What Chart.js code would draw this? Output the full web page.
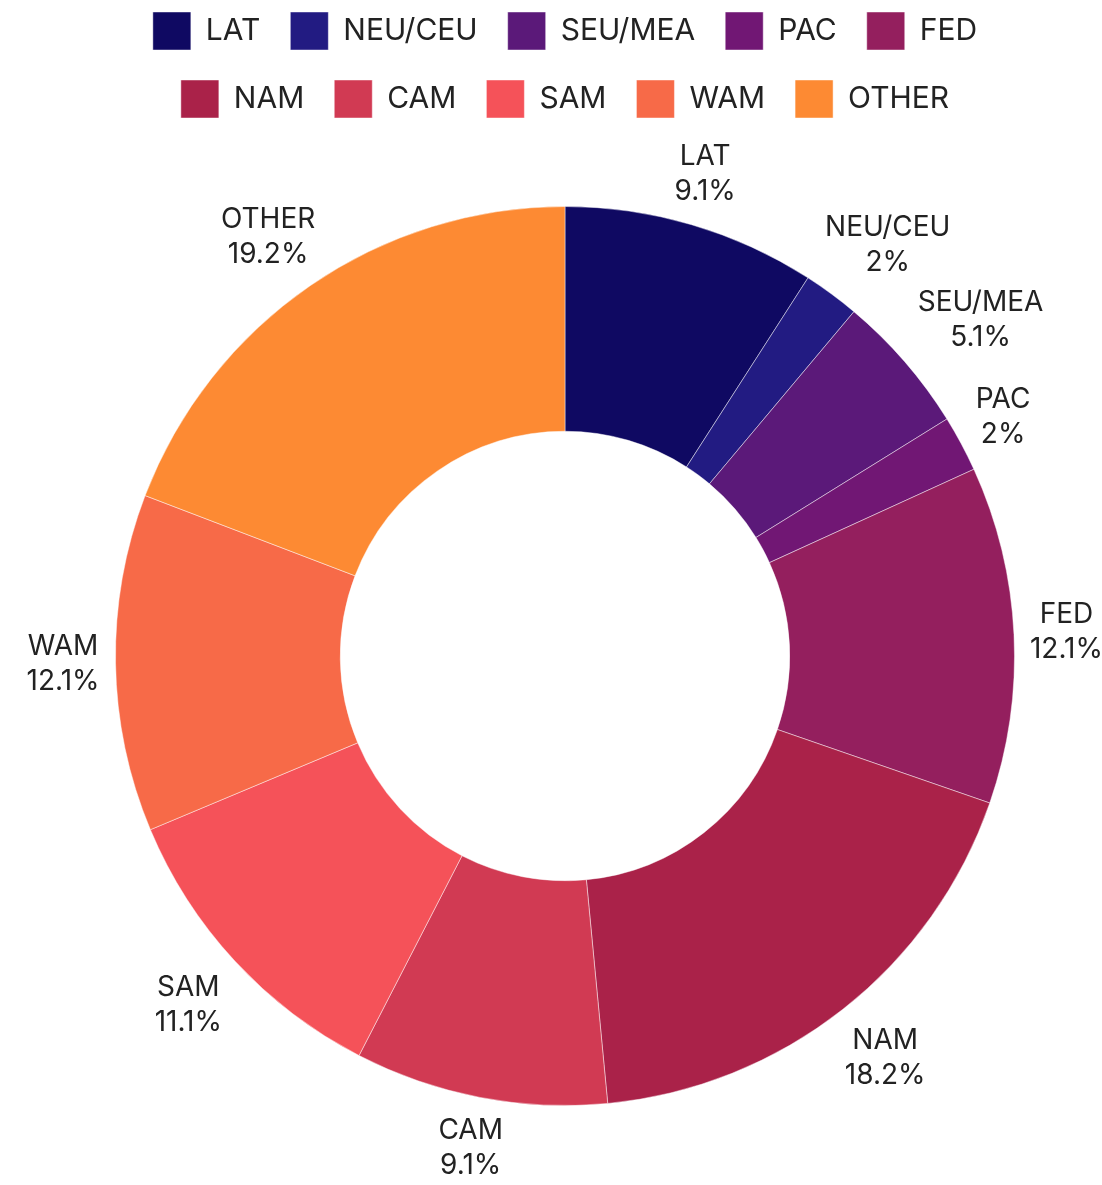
<!DOCTYPE html>
<html>
<head>
<meta charset="utf-8">
<script src="https://cdn.jsdelivr.net/npm/chart.js@4"></script>
<style>
  html, body { margin: 0; padding: 0; background: #fff; }
  canvas { display: block; }
</style>
</head>
<body>
<canvas id="regionChart" width="1102" height="1185"></canvas>
<script>
// data (counts, shares shown as %)
const regions = ['LAT', 'NEU/CEU', 'SEU/MEA', 'PAC', 'FED', 'NAM', 'CAM', 'SAM', 'WAM', 'OTHER'];
const counts = [9, 2, 5, 2, 12, 18, 9, 11, 12, 19];
const sliceColors = ['#0f0962', '#221b82', '#5b1979', '#711774', '#941f5e', '#aa2249', '#d13a53', '#f55259', '#f76a48', '#fd8a33'];

const FONT = 'Inter, "Noto Sans", sans-serif';

document.addEventListener('DOMContentLoaded', () => {
    const canvas = document.getElementById('regionChart');
    const ctx = canvas.getContext('2d');
    const total = counts.reduce((a, b) => a + b, 0);
    const pct = v => +(v / total * 100).toFixed(1) + '%';

    // room between the legend and the doughnut for the outside labels
    const legendGap = {
        id: 'legendGap',
        beforeInit(chart) {
            const fit = chart.legend.fit;
            chart.legend.fit = function () {
                fit.call(this);
                this.height += 78;
            };
        }
    };

    // labels outside each slice, name over percentage
    const outsideLabels = {
        id: 'outsideLabels',
        afterDraw(chart) {
            const c = chart.ctx;
            const meta = chart.getDatasetMeta(0);
            const pad = 4, offset = 12, lineH = 35;
            c.save();
            c.font = `28px ${FONT}`;
            c.fillStyle = '#222';
            c.textAlign = 'center';
            c.textBaseline = 'middle';
            meta.data.forEach((arc, i) => {
                const p = arc.getProps(['x', 'y', 'startAngle', 'endAngle', 'outerRadius'], true);
                const angle = (p.startAngle + p.endAngle) / 2;
                const vx = Math.cos(angle), vy = Math.sin(angle);
                const lines = [regions[i], pct(counts[i])];
                const w = Math.max(...lines.map(l => c.measureText(l).width)) + 2 * pad;
                const h = lines.length * lineH + 2 * pad;
                const vs = 1 / Math.max(Math.abs(vx), Math.abs(vy));
                const cx = p.x + vx * p.outerRadius + w / 2 * vx * vs + offset * vx;
                const cy = p.y + vy * p.outerRadius + h / 2 * vy * vs + offset * vy;
                c.fillText(lines[0], cx, cy - lineH / 2);
                c.fillText(lines[1], cx, cy + lineH / 2);
            });
            c.restore();
        }
    };

    new Chart(ctx, {
        type: 'doughnut',
        data: {
            labels: regions,
            datasets: [{
                data: counts,
                backgroundColor: sliceColors,
                borderColor: 'rgba(255,255,255,0.45)',
                borderWidth: 1
            }]
        },
        options: {
            responsive: false,
            animation: false,
            cutout: '50%',
            layout: {
                padding: { top: -18, bottom: 79, left: 65, right: 37 }
            },
            plugins: {
                legend: {
                    position: 'top',
                    labels: {
                        boxWidth: 38,
                        boxHeight: 38,
                        padding: 30,
                        color: '#222',
                        font: { family: FONT, size: 30 }
                    }
                },
                tooltip: { enabled: false }
            }
        },
        plugins: [legendGap, outsideLabels]
    });
});
</script>
</body>
</html>
